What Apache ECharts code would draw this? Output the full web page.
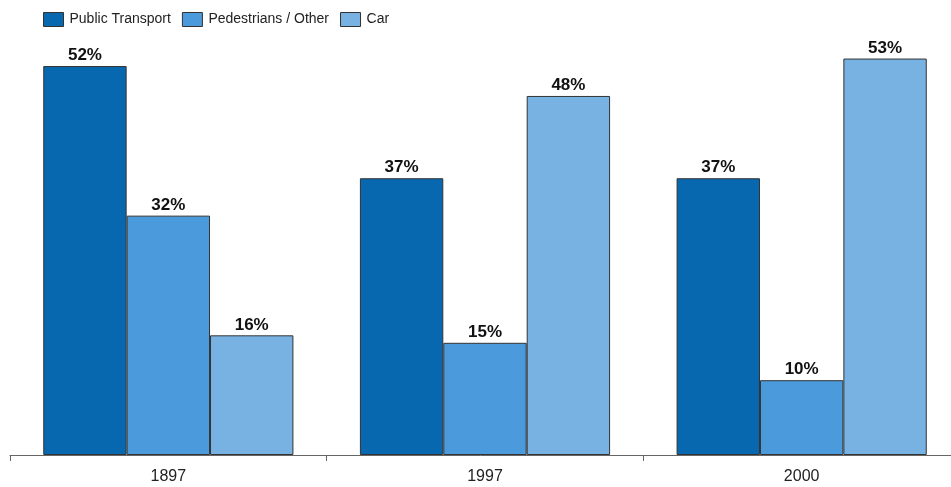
<!DOCTYPE html>
<html>
<head>
<meta charset="utf-8">
<script src="https://cdn.jsdelivr.net/npm/echarts@6/dist/echarts.min.js"></script>
<style>
  html, body { margin: 0; padding: 0; background: #fff; }
  #chart { width: 951px; height: 487px; }
</style>
</head>
<body>
<div id="chart"></div>
<script>
// Modal split by year (%)
const years = ['1897', '1997', '2000'];
const publicTransport = [52, 37, 37];
const pedestrians = [32, 15, 10];
const car = [16, 48, 53];

const seriesNames = ['Public Transport', 'Pedestrians / Other', 'Car'];
const seriesColors = ['#0768b0', '#4b9bdc', '#78b2e3'];
const seriesData = [publicTransport, pedestrians, car];

const chart = echarts.init(document.getElementById('chart'));
chart.setOption({
  animation: false,
  textStyle: { fontFamily: 'Liberation Sans, Arial, sans-serif' },
  legend: {
    left: 43,
    top: 12,
    padding: 0,
    icon: 'rect',
    itemWidth: 20,
    itemHeight: 14,
    itemGap: 11,
    itemStyle: { borderColor: '#333', borderWidth: 1 },
    textStyle: { fontSize: 14, color: '#222', padding: [1, 0, 0, 1] },
    data: seriesNames
  },
  // the last category runs past the right edge of the canvas
  grid: { left: 10, width: 950, top: 43.6, bottom: 32, outerBoundsMode: 'none', containLabel: false },
  xAxis: {
    type: 'category',
    data: years,
    axisLine: { lineStyle: { color: '#666', width: 1 } },
    axisTick: { show: true, length: 6, lineStyle: { color: '#666' } },
    axisLabel: { fontSize: 16, color: '#222', margin: 14 }
  },
  yAxis: {
    type: 'value',
    min: 0,
    max: 55,
    show: false,
    splitLine: { show: false }
  },
  series: seriesNames.map((name, i) => ({
    name,
    type: 'bar',
    data: seriesData[i],
    barGap: '0%',
    barCategoryGap: '21%',
    itemStyle: { color: seriesColors[i], borderColor: '#333', borderWidth: 1 },
    label: {
      show: true,
      position: 'top',
      distance: 2,
      formatter: '{c}%',
      fontSize: 17,
      fontWeight: 'bold',
      color: '#111'
    }
  }))
});
</script>
</body>
</html>
